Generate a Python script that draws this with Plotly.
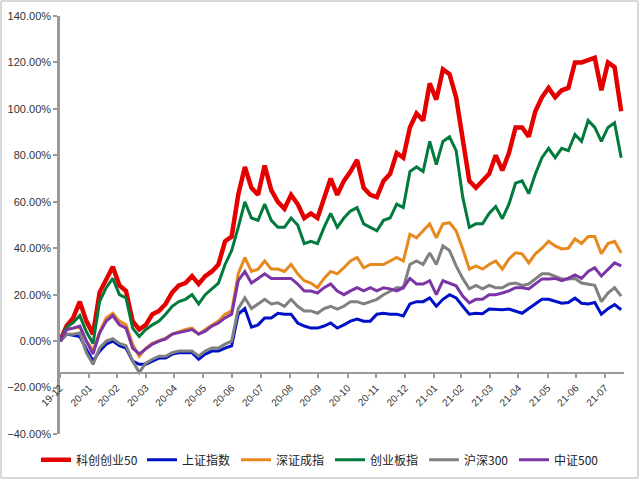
import pandas as pd
import plotly.graph_objects as go

# Weekly observations starting from the base date 2019-12-31
start_date = "2019-12-31"
n_points = 86

series_names = ["科创创业50", "上证指数", "深证成指", "创业板指", "沪深300", "中证500"]

kechuang50 = [0, 6.5, 10, 17, 8.6, 3, 21, 27, 32, 24, 21.6, 8.6, 5, 7, 11.6, 13, 16, 21, 24, 25,
              28, 24.6, 28, 30, 33, 43, 45, 63, 75, 66, 63, 75.6, 65, 60, 57, 63, 59, 53, 55, 53,
              62, 70, 63, 69, 73, 78, 66, 63, 62, 69, 72, 81, 79, 92, 98, 95, 111, 104, 117, 115,
              105, 88, 69, 66, 69, 72, 80, 73.5, 81, 92, 92, 88, 99, 105, 109, 105, 108, 109, 120, 120,
              121, 122, 108, 120, 118, 99]
shanghai = [0, 3, 2.5, 2, -3.5, -8.6, -4.3, -1.3, 0, -2, -3, -8.6, -10, -10, -8.6, -7.3, -7.3, -5.6, -5, -5,
            -5, -7.8, -5.6, -4.3, -4.3, -3, -2, 11.6, 14, 6, 7, 10, 10, 12, 11.6, 11.6, 7.8, 6.5, 5.6, 5.6,
            6.5, 7.8, 5.6, 7, 8.6, 9.5, 8.6, 8.6, 11.6, 12, 11.6, 11.6, 10.8, 16, 17, 17, 18.6, 15, 18, 20,
            18.6, 15, 11.6, 12, 11.8, 13.8, 13.5, 13.5, 13.8, 13, 12, 14, 16, 18, 18, 17, 16.3, 16.6, 18.5, 16.3,
            16, 16.6, 11.6, 14, 15.7, 13.5]
shenzhen = [0, 5, 5.6, 6, 0, -4, 4, 10, 12, 8.6, 7, -1.3, -6.5, -3, -1, 0, 1.3, 3, 4, 5,
            5.6, 3, 5, 7, 8.6, 11.6, 13, 29, 36, 30, 31, 34.5, 31, 31, 30, 33, 29, 26, 25, 23,
            27, 30, 29, 31.6, 34.5, 36, 31.6, 33, 33, 33, 34.5, 36, 34.5, 46, 44.5, 47.5, 50.5, 44.5, 50.5, 51,
            47.5, 39.7, 31, 32.4, 31, 33, 34.5, 31, 35.4, 38, 37.6, 33.7, 37.6, 40, 43, 41, 39.7, 40, 44, 42,
            45, 45, 37.6, 42, 43, 38]
chinext = [0, 6, 8, 11, 4, -1, 17, 23, 27, 20, 18.6, 5.6, 2, 5, 7, 8.6, 11.6, 15, 17, 18,
           20, 16, 20, 22.5, 25, 33, 39, 49, 60, 53, 52, 59, 52, 49, 49, 53, 50, 42, 43, 42,
           49, 55, 49, 53, 56, 57.5, 50.5, 49, 47.5, 52, 53, 59, 57.5, 73, 75, 73, 86, 76, 86, 88,
           82, 62, 49, 50.5, 50.5, 55, 58, 52.7, 59, 68, 69, 63.5, 72, 79, 83, 79, 83, 82, 89, 86,
           95, 92, 86, 92, 94, 79]
hs300 = [0, 3, 3, 3.5, -5, -10, -3, 0, 1, -1, -2, -8.6, -13.5, -9.5, -7.8, -6.5, -6.5, -5, -4.3, -4.3,
         -4.3, -6.5, -4.3, -3, -3, -1.3, 0, 14, 18.6, 14, 16, 18, 16, 16.5, 15, 18, 15, 13, 13, 12,
         14, 15, 13.8, 15, 17, 17, 16, 17, 18, 20, 21.6, 23, 23, 33, 34.5, 33, 38, 33, 41, 39,
         32.4, 27, 22.5, 24, 22.5, 24, 23, 23, 24.6, 25, 24, 24.6, 26.8, 29, 29, 28, 26.8, 26.8, 27, 25,
         24.6, 24, 17, 20.7, 23, 19.4]
zz500 = [0, 5, 5.6, 6.5, 0, -5.6, 3.5, 8.6, 11, 7, 5.6, -3, -5.5, -3.5, -1.3, 0, 0.9, 3, 3.5, 4.3,
         5, 3, 4.3, 6.5, 7.8, 10, 11.6, 26, 30, 25, 27, 29, 27, 27, 27, 27, 24.6, 21.6, 21.6, 20.7,
         23, 24.6, 21.6, 20, 21.6, 23, 21.6, 23, 21.6, 23, 22.5, 21.6, 23, 27, 24.6, 24.6, 26, 20, 26, 25,
         23.8, 19.4, 16.5, 18, 18, 20, 20, 20.7, 21.6, 23, 23, 22.5, 24.6, 26.8, 26.8, 27, 26, 27, 28.5, 27,
         30, 31.6, 28, 31, 33.7, 32.4]

tick_dates = ["2019-12-31", "2020-01-31", "2020-02-29", "2020-03-31", "2020-04-30", "2020-05-31",
              "2020-06-30", "2020-07-31", "2020-08-31", "2020-09-30", "2020-10-31", "2020-11-30",
              "2020-12-31", "2021-01-31", "2021-02-28", "2021-03-31", "2021-04-30", "2021-05-31",
              "2021-06-30", "2021-07-31"]
tick_labels = ["19-12", "20-01", "20-02", "20-03", "20-04", "20-05", "20-06", "20-07", "20-08", "20-09",
               "20-10", "20-11", "20-12", "21-01", "21-02", "21-03", "21-04", "21-05", "21-06", "21-07"]

y_tick_values = [-40, -20, 0, 20, 40, 60, 80, 100, 120, 140]

dates = pd.date_range(start_date, periods=n_points, freq="7D")

series_values = [kechuang50, shanghai, shenzhen, chinext, hs300, zz500]
colors = ["#E50000", "#0010C8", "#E8891E", "#007A3D", "#808080", "#7B35A6"]
widths = [4.5, 3, 3, 3, 3, 3]
legend_widths = [61, 49, 49, 49, 45, 45]

fig = go.Figure()
for name, vals, c, w, lw in zip(series_names, series_values, colors, widths, legend_widths):
    fig.add_trace(go.Scatter(
        x=dates, y=[v / 100 for v in vals], name=name, mode="lines",
        line=dict(color=c, width=w), legendwidth=lw,
    ))

axis_color = "#9A9A9A"
fig.update_layout(
    width=640, height=480,
    margin=dict(l=60, r=16, t=16, b=46, autoexpand=False),
    paper_bgcolor="white", plot_bgcolor="white",
    font=dict(family="Liberation Sans, Arial, Noto Sans CJK SC", color="#333333", size=11),
    showlegend=True,
    legend=dict(orientation="h", xref="container", yref="container",
                x=0.5, xanchor="center", y=0.042, yanchor="middle",
                font=dict(family="Noto Sans CJK SC", size=12, color="#222222"),
                itemwidth=30, tracegroupgap=0, bgcolor="rgba(0,0,0,0)"),
    xaxis=dict(
        type="date", range=["2019-12-31", "2021-08-20"],
        tickvals=tick_dates, ticktext=tick_labels, tickangle=-45,
        anchor="free", position=0.145, automargin=False,
        showline=True, linecolor=axis_color, linewidth=2,
        ticks="outside", ticklen=4, tickwidth=1.5, tickcolor=axis_color,
        showgrid=False, zeroline=False,
        tickfont=dict(size=10, family="Liberation Sans, Arial", color="#333333"),
    ),
    yaxis=dict(
        range=[-0.40, 1.40], tickvals=[v / 100 for v in y_tick_values], tickformat=".2%",
        automargin=False,
        showline=True, linecolor=axis_color, linewidth=2.5,
        ticks="outside", ticklen=4, tickwidth=1.5, tickcolor=axis_color,
        showgrid=False, zeroline=False,
        tickfont=dict(size=11, family="Liberation Sans, Arial", color="#333333"),
    ),
    shapes=[dict(type="rect", xref="paper", yref="paper",
                 x0=-0.1046, x1=1.0248, y0=-0.1053, y1=1.0359,
                 line=dict(color="#B4B4B4", width=1), fillcolor="rgba(0,0,0,0)", layer="below")],
)

fig.write_html("out.html", config={"displayModeBar": False},
               post_script="document.body.style.margin='0';document.body.style.overflow='hidden';")
